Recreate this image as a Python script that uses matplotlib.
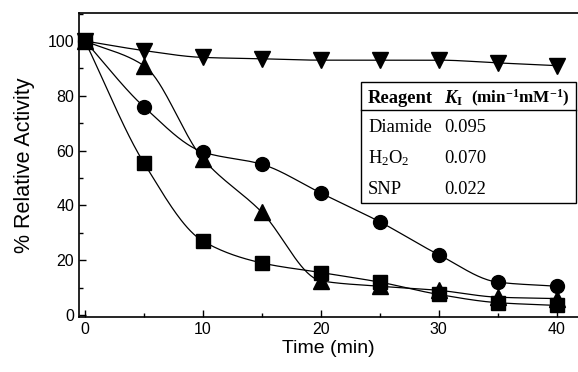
import matplotlib
matplotlib.use('Agg')
import matplotlib.pyplot as plt
import numpy as np
from matplotlib.ticker import MultipleLocator

plt.rcParams['font.family'] = ['Liberation Sans', 'DejaVu Sans']
plt.rcParams['mathtext.fontset'] = 'custom'
plt.rcParams['mathtext.rm'] = 'Liberation Serif'
plt.rcParams['mathtext.it'] = 'Liberation Serif:italic'
plt.rcParams['mathtext.bf'] = 'Liberation Serif:bold'
plt.rcParams['mathtext.bfit'] = 'Liberation Serif:bold:italic'

time = [0, 5, 10, 15, 20, 25, 30, 35, 40]
squares = [100, 55.5, 27, 19, 15.5, 12, 7.5, 4.5, 3.5]
circles = [100, 76, 59.5, 55, 44.5, 34, 22, 12, 10.5]
tri_up = [100, 91, 57, 37.5, 12.5, 10.5, 9, 6.5, 6]
tri_down = [100, 96.5, 94, 93.5, 93, 93, 93, 92, 91]

reagents = ['Diamide', r'H$_2$O$_2$', 'SNP']
k_values = ['0.095', '0.070', '0.022']


def pchip(x, y, n=300):
    # monotone cubic through the points, used only to draw the smooth lines
    x = np.asarray(x, float)
    y = np.asarray(y, float)
    h = np.diff(x)
    delta = np.diff(y) / h
    d = np.zeros_like(y)
    for i in range(1, len(x) - 1):
        if delta[i - 1] * delta[i] > 0:
            w1 = 2 * h[i] + h[i - 1]
            w2 = h[i] + 2 * h[i - 1]
            d[i] = (w1 + w2) / (w1 / delta[i - 1] + w2 / delta[i])
    d[0] = delta[0]
    d[-1] = delta[-1]
    xs = np.linspace(x[0], x[-1], n)
    idx = np.clip(np.searchsorted(x, xs) - 1, 0, len(x) - 2)
    t = (xs - x[idx]) / h[idx]
    h00 = 2 * t ** 3 - 3 * t ** 2 + 1
    h10 = t ** 3 - 2 * t ** 2 + t
    h01 = -2 * t ** 3 + 3 * t ** 2
    h11 = t ** 3 - t ** 2
    ys = h00 * y[idx] + h10 * h[idx] * d[idx] + h01 * y[idx + 1] + h11 * h[idx] * d[idx + 1]
    return xs, ys


fig = plt.figure(figsize=(5.78, 3.72), dpi=100)
ax = fig.add_axes([0.1367, 0.148, 0.8633, 0.817])

for ys, m, ms in [(squares, 's', 9.5), (circles, 'o', 10),
                  (tri_up, '^', 11), (tri_down, 'v', 11)]:
    xs, ysm = pchip(time, ys)
    ax.plot(xs, ysm, color='black', lw=0.9)
    ax.plot(time, ys, m, color='black', ms=ms, clip_on=False)

ax.set_xlim(-0.5, 41.8)
ax.set_ylim(-0.7, 110.2)
ax.xaxis.set_major_locator(MultipleLocator(10))
ax.xaxis.set_minor_locator(MultipleLocator(5))
ax.yaxis.set_major_locator(MultipleLocator(20))
ax.yaxis.set_minor_locator(MultipleLocator(10))
ax.tick_params(which='both', direction='in', labelsize=11.5, width=1)
ax.tick_params(which='major', length=5)
ax.tick_params(which='minor', length=3)
ax.spines['right'].set_visible(False)
for s in ['left', 'bottom', 'top']:
    ax.spines[s].set_linewidth(1.2)
ax.set_xlabel('Time (min)', fontsize=14, labelpad=2)
ax.set_ylabel('% Relative Activity', fontsize=15.5, labelpad=9)

# inset table
W, H = 578, 372
def fx(p):
    return p / W
def fy(p):
    return 1 - p / H

box = plt.Rectangle((fx(361), fy(203)), fx(576) - fx(361), fy(82) - fy(203),
                    transform=fig.transFigure, fill=True, facecolor='white',
                    edgecolor='black', lw=1.0, zorder=5)
fig.patches.append(box)
fig.add_artist(plt.Line2D([fx(361), fx(576)], [fy(110), fy(110)],
                          transform=fig.transFigure, color='black', lw=1.0, zorder=6))
serif = {'family': 'Liberation Serif', 'size': 13.3}
fig.text(fx(368), fy(103), 'Reagent', fontdict=serif, weight='bold', va='baseline', zorder=7)
fig.text(fx(444), fy(103), r'$\mathbfit{K}_{\mathbf{I}}$', fontdict=serif, va='baseline', zorder=7)
fig.text(fx(471), fy(103), r'(min$^{\mathbf{-1}}$mM$^{\mathbf{-1}}$)', fontdict=serif,
         size=12.3, weight='bold', va='baseline', zorder=7)
rows_y = [132, 163, 194]
for rg, kv, yp in zip(reagents, k_values, rows_y):
    fig.text(fx(368), fy(yp), rg, fontdict=serif, va='baseline', zorder=7)
    fig.text(fx(444), fy(yp), kv, fontdict=serif, va='baseline', zorder=7)

fig.savefig('out.png', dpi=100)
